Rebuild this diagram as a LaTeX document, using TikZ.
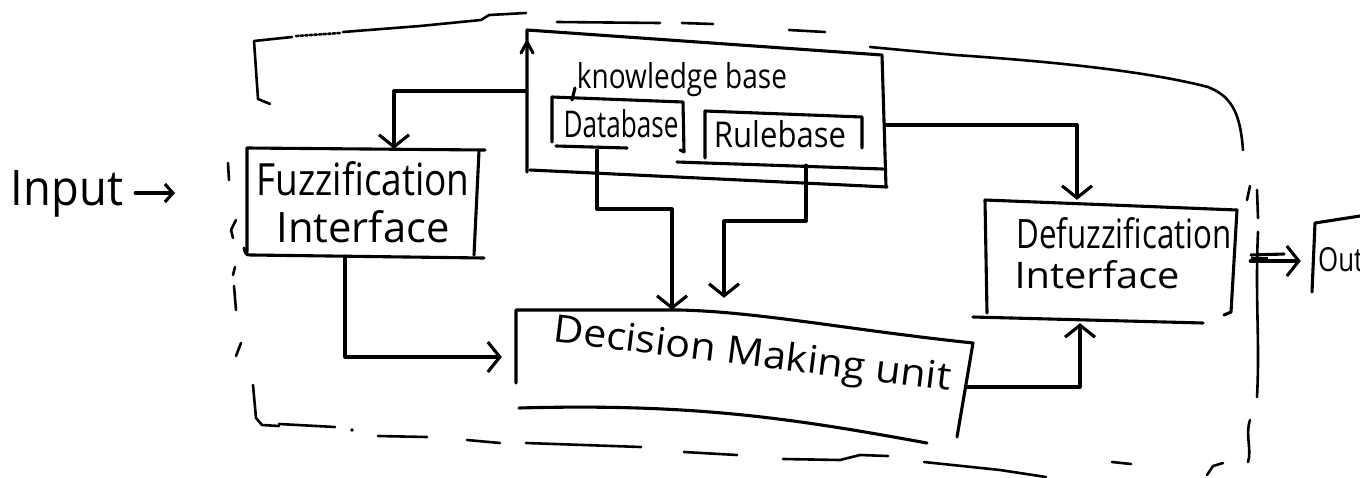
\documentclass[tikz,border=0pt]{standalone}
\usepackage{fontspec}
\setmainfont{Open Sans}
\usetikzlibrary{arrows.meta,calc}
% scale a word to a given width and height (in pt)
\newcommand\handword[3]{\resizebox{#1pt}{#2pt}{#3}}
\begin{document}
\begin{tikzpicture}[x=1pt,y=-1pt,
  pen/.style={line width=3.1pt, line cap=round, line join=round},
  arr/.style={pen, -{Straight Barb[length=12pt,width=30pt]}},
  arrsmall/.style={pen, -{Straight Barb[length=8pt,width=18pt]}},
  frame/.style={line width=2.6pt, line cap=round, line join=round},
  area/.style={draw=none, rectangle, inner sep=0pt},
  lbl/.style={anchor=base, inner sep=0pt}]

\fill[white] (0,0) rectangle (1360,477);
\useasboundingbox (0,0) rectangle (1360,477);
\clip (0,0) rectangle (1360,477);

% ---------- block areas (for anchoring the connectors)
\node[area, minimum width=236pt, minimum height=107pt] (fz)  at (365,202.5) {};
\node[area, minimum width=358pt, minimum height=157pt] (kb)  at (706,108.5) {};
\node[area, minimum width=131pt, minimum height=53pt]  (db)  at (617.5,123.5) {};
\node[area, minimum width=157pt, minimum height=53pt]  (rb)  at (783.5,138.5) {};
\node[area, minimum width=457pt, minimum height=130pt] (dm)  at (744.5,375) {};
\node[area, minimum width=252pt, minimum height=120pt] (dfz) at (1111,260) {};
\node[area, minimum width=86pt,  minimum height=70pt]  (out) at (1356,255) {};

% ---------- hand-drawn outlines
% Fuzzification interface
\draw[pen] (247,252) -- (247,148) -- (485,150);
\draw[pen] (479,151) -- (474,255);
\draw[pen] (244,248) .. controls (246,255) .. (252,255) -- (484,258);
% Knowledge base
\draw[pen] (527,172) -- (527,30) -- (882,55) -- (886,187);
\draw[pen] (530,170) -- (887,187);
\draw[pen] (521,53) -- (527,42) -- (533,53);
\draw[pen] (575,88) -- (572,100);
% Database
\draw[pen] (552,142) -- (552,97) -- (683,102) -- (684,152) -- (680,150);
\draw[pen] (556,146) -- (627,148);
% Rulebase
\draw[pen] (705,158) -- (705,111) -- (862,117) -- (862,148);
\draw[pen] (677,162) -- (883,169);
% Decision making unit
\draw[pen] (516,383) -- (516,310) -- (680,310) .. controls (760,312) and (850,330) .. (973,343) -- (957,437);
\draw[pen] (519,408) .. controls (700,403) and (800,420) .. (927,443);
% Defuzzification interface
\draw[pen] (987,313) -- (985,200) -- (1237,210) -- (1231,312) -- (1224,315);
\draw[pen] (973,317) -- (1203,323);
% Output
\draw[pen] (1312,292) -- (1315,223) -- (1360,216);

% ---------- labels
\node[lbl] (inp)  at (67,205)   {\handword{112}{35}{Input}};
\node[lbl] (fzt1) at (363,195)  {\handword{213}{34}{Fuzzification}};
\node[lbl] (fzt2) at (363,242)  {\handword{173}{32}{Interface}};
\node[lbl] (kbt)  at (682,88)   {\handword{210}{26}{knowledge base}};
\node[lbl] (dbt)  at (621,137)  {\handword{115}{28}{Database}};
\node[lbl] (rbt)  at (780,147)  {\handword{132}{27}{Rulebase}};
\node[lbl, rotate=-7] (dmt) at (751,366) {\handword{400}{29}{Decision Making unit}};
\node[lbl] (dft1) at (1124,248) {\handword{215}{31}{Defuzzification}};
\node[lbl] (dft2) at (1097,288) {\handword{165}{28}{Interface}};
\node[anchor=base west, inner sep=0pt] (outt) at (1318,271) {\handword{86}{24}{Output}};

% ---------- connectors
\coordinate (ia) at (175,193);
\draw[arrsmall] ($(inp.east |- ia)+(12,0)$) -- (ia);

\coordinate (kf) at (394,91);
\draw[arr] (kb.west |- kf) -- (kf) -- (kf |- fz.north);

\coordinate (kd) at (1077,125);
\draw[arr] (kb.east |- kd) -- (kd) -- (kd |- dfz.north);

\coordinate (fd) at (345,357);
\draw[arr] (fd |- fz.south) -- (fd) -- ($(dm.west |- fd)+(-14,0)$);

\coordinate (dd1) at (597,209);
\coordinate (dd2) at (672,209);
\draw[arr] (dd1 |- db.south) -- (dd1) -- (dd2) -- (dd2 |- dm.north);

\coordinate (rd1) at (806,221);
\coordinate (rd2) at (724,221);
\draw[arr] (rd1 |- rb.south) -- (rd1) -- (rd2) -- ($(rd2 |- dm.north)+(0,-12)$);

\coordinate (ddf) at (1080,387);
\draw[arr] ($(dm.east |- ddf)+(-7,0)$) -- (ddf) -- ($(ddf |- dfz.south)+(0,3)$);

\coordinate (op) at (1300,261);
\draw[arr] ($(dfz.east |- op)+(13,0)$) -- ($(out.west |- op)+(-12,0)$);
\draw[pen] (1251,255) -- (1284,254);
\draw[line width=5pt] (1251,259) -- (1268,259);

% ---------- hand-drawn dashed system boundary
% top left corner and top edge
\draw[frame] (270,104) -- (258,99) -- (254,41) -- (292,37);
\draw[frame, dotted] (296,36) -- (340,33);
\draw[frame] (343,32) -- (420,26) -- (481,20) -- (489,15) -- (526,13);
\draw[frame] (557,22) -- (660,23);
\draw[frame] (682,23) -- (713,24);
\draw[frame] (789,30) -- (825,32);
% top right curve
\draw[frame] (870,47) -- (955,55) .. controls (1060,62) and (1150,72) .. (1208,87)
  .. controls (1230,96) and (1240,110) .. (1243,150);
% right edge
\draw[frame] (1250,186) -- (1247,200);
\draw[frame] (1257,190) -- (1258,218);
\draw[frame] (1258,232) .. controls (1255,300) and (1260,340) .. (1257,397);
\draw[frame] (1250,420) .. controls (1245,435) and (1252,450) .. (1248,462);
\draw[frame] (1207,475) -- (1213,466) -- (1223,463);
% left edge
\draw[frame] (228,163) -- (229,180);
\draw[frame] (236,220) -- (231,230) -- (233,238);
\draw[frame] (235,267) -- (233,275);
\draw[frame] (234,286) -- (236,310);
\draw[frame] (241,343) -- (236,356);
% bottom left corner and bottom edge
\draw[frame] (253,385) -- (256,418) -- (262,425) -- (279,426);
\draw[frame] (279,424) -- (335,427);
\fill (352,430) circle (1.8pt);
\draw[frame] (378,436) -- (427,437);
\draw[frame] (467,440) -- (500,443);
\draw[frame] (526,443) -- (641,447);
\draw[frame] (684,452) -- (737,455);
\draw[frame] (783,459) -- (840,460) -- (860,455) -- (888,456);
\draw[frame] (924,462) -- (1000,470) -- (1046,477);
\draw[frame] (1112,462) -- (1131,464);
\end{tikzpicture}
\end{document}
